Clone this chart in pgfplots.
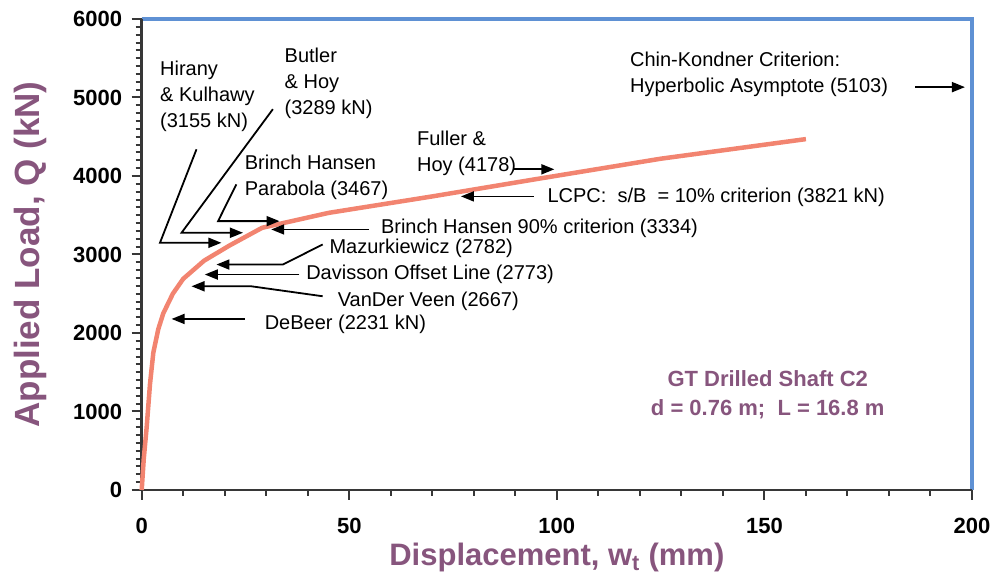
\documentclass[border=0pt]{standalone}
\usepackage{pgfplots}
\pgfplotsset{compat=1.18}
\usepackage{fontspec}
\setmainfont{Liberation Sans}
\usetikzlibrary{arrows.meta}
\definecolor{curve}{RGB}{242,132,112}
\definecolor{frameblue}{RGB}{95,145,212}
\definecolor{labpurple}{RGB}{135,85,125}
\definecolor{axdark}{RGB}{55,55,55}
\pgfplotstableread{
x y
0 0
0.5 400
1.2 800
2 1350
2.8 1750
4 2050
5.2 2250
7.5 2500
10 2690
15 2920
21 3110
29 3340
45 3530
70 3740
95 3960
125 4220
160 4470
}\loadtable
\begin{document}
\begin{tikzpicture}[
  ann/.style={font=\fontsize{20}{26}\selectfont, inner sep=0pt, align=left, anchor=west},
  arr/.style={line width=1.8pt, -{Triangle[length=13pt,width=10pt]}}]
\begin{axis}[
  scale only axis, width=830.3pt, height=471pt,
  xmin=0, xmax=200, ymin=0, ymax=6000,
  axis line style={draw=none},
  xtick pos=bottom, ytick pos=left,
  xtick={0,50,...,200}, ytick={0,1000,...,6000},
  minor xtick={10,20,30,40,60,70,80,90,110,120,130,140,160,170,180,190},
  minor ytick={100,200,...,5900},
  tick align=outside,
  major tick length=10pt, minor tick length=6pt,
  tick style={axdark, line width=2pt},
  /pgf/number format/assume math mode=true,
  /pgf/number format/1000 sep={},
  tick label style={font=\bfseries\fontsize{22}{22}\selectfont},
  xticklabel style={yshift=-15pt},
  yticklabel style={xshift=-6pt},
  xlabel={Displacement, w\textsubscript{t} (mm)},
  ylabel={Applied Load, Q (kN)},
  xlabel style={font=\bfseries\fontsize{31}{31}\selectfont, text=labpurple, at={(rel axis cs:0.5,-0.1423)}, anchor=center},
  ylabel style={font=\bfseries\fontsize{35}{35}\selectfont, text=labpurple, at={(rel axis cs:-0.1345,0.5)}, anchor=center},
  clip=false,
]
\draw[frameblue, line width=4pt] (rel axis cs:0,1) -- (rel axis cs:1,1) -- (rel axis cs:1,0);
\draw[axdark, line width=2.6pt] (rel axis cs:0,1) -- (rel axis cs:0,0) -- (rel axis cs:1,0);
\addplot[curve, line width=4.5pt, line join=round, no markers] table {\loadtable};

% Hirany & Kulhawy
\node[ann] at (axis cs:4.4,5011) {Hirany\\\& Kulhawy\\(3155 kN)};
\draw[arr] (axis cs:13.2,4340) -- (axis cs:4.4,3149) -- (axis cs:19.2,3149);
% Butler & Hoy
\node[ann] at (axis cs:34.4,5183) {Butler\\\& Hoy\\(3289 kN)};
\draw[arr] (axis cs:31.6,4851) -- (axis cs:9.6,3277) -- (axis cs:24.4,3277);
% Brinch Hansen parabola
\node[ann] at (axis cs:24.8,3979) {Brinch Hansen\\Parabola (3467)};
\draw[arr] (axis cs:22.8,3894) -- (axis cs:18.4,3425) -- (axis cs:33.2,3425);
% Brinch Hansen 90%
\node[ann] at (axis cs:57.6,3328) {Brinch Hansen 90\% criterion (3334)};
\draw[arr] (axis cs:54.8,3319) -- (axis cs:31.2,3319);
% Mazurkiewicz
\node[ann] at (axis cs:45.2,3077) {Mazurkiewicz (2782)};
\draw[arr] (axis cs:43.6,3128) -- (axis cs:34.0,2872) -- (axis cs:18.0,2872);
% Davisson
\node[ann] at (axis cs:39.6,2745) {Davisson Offset Line (2773)};
\draw[arr] (axis cs:38.0,2745) -- (axis cs:15.2,2745);
% VanDer Veen
\node[ann] at (axis cs:47.2,2404) {VanDer Veen (2667)};
\draw[arr] (axis cs:43.6,2468) -- (axis cs:26.4,2595) -- (axis cs:12.0,2595);
% DeBeer
\node[ann] at (axis cs:29.6,2106) {DeBeer (2231 kN)};
\draw[arr] (axis cs:24.8,2179) -- (axis cs:7.2,2179);
% Fuller & Hoy
\node[ann] at (axis cs:66.3,4289) {Fuller \&\\Hoy (4178)};
\draw[arr] (axis cs:89.6,4085) -- (axis cs:99.4,4085);
% LCPC
\node[ann] at (axis cs:97.7,3728) {LCPC:\ \ s/B\ \ = 10\% criterion (3821 kN)};
\draw[arr] (axis cs:94.4,3740) -- (axis cs:76.9,3740);
% Chin-Kondner
\node[ann] at (axis cs:117.6,5298) {Chin-Kondner Criterion:\\Hyperbolic Asymptote (5103)};
\draw[arr] (axis cs:186.3,5132) -- (axis cs:198.3,5132);
% GT
\node[font=\bfseries\fontsize{22}{29}\selectfont, text=labpurple, align=center, inner sep=0pt] at (axis cs:150.8,1213) {GT Drilled Shaft C2\\d = 0.76 m;\ \ L = 16.8 m};
\end{axis}
\pgfresetboundingbox
\path[use as bounding box] (-141.7pt,-87pt) rectangle (849.3pt,490pt);
\end{tikzpicture}
\end{document}
